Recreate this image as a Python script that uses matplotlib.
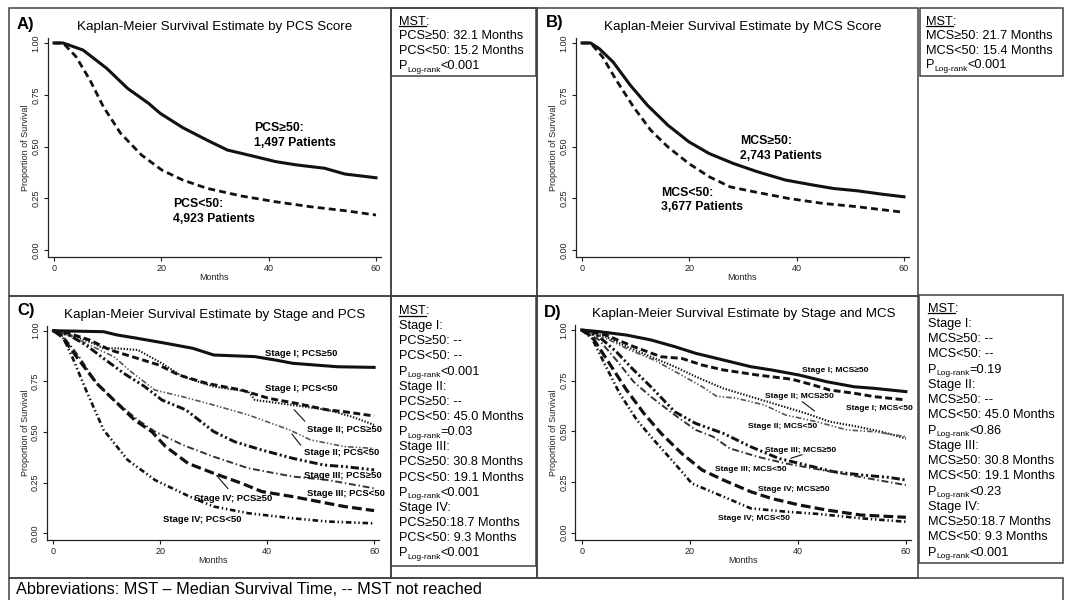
import matplotlib
matplotlib.use("Agg")
import matplotlib.pyplot as plt
from matplotlib.patches import Rectangle
from matplotlib.lines import Line2D

plt.rcParams['font.family'] = ['Liberation Sans', 'DejaVu Sans']
plt.rcParams['lines.scale_dashes'] = False

W, H = 1068, 600

# ---------------- data ----------------
# A) by PCS score
a_hi_t = [0, 1.7, 5.4, 9.8, 13.7, 17.6, 19.8, 24.0, 28.5, 32.3, 37.5, 41.3, 45.2, 50.4, 54.2, 60]
a_hi_s = [1.0, 1.0, 0.966, 0.878, 0.781, 0.709, 0.660, 0.591, 0.531, 0.483, 0.451, 0.427, 0.411, 0.395, 0.367, 0.349]
a_lo_t = [0, 1.7, 4.1, 6.7, 9.2, 12.4, 16.3, 20.1, 24.0, 28.5, 34.9, 41.3, 47.8, 54.2, 60]
a_lo_s = [1.0, 1.0, 0.934, 0.821, 0.692, 0.564, 0.459, 0.386, 0.338, 0.298, 0.261, 0.233, 0.209, 0.190, 0.169]

# B) by MCS score
b_hi_t = [0, 1.6, 3.2, 5.8, 9.0, 12.2, 16.0, 19.9, 23.7, 28.2, 32.7, 37.9, 43.0, 46.9, 51.3, 55.8, 60]
b_hi_s = [1.0, 1.0, 0.973, 0.908, 0.796, 0.699, 0.603, 0.523, 0.466, 0.418, 0.378, 0.338, 0.314, 0.297, 0.286, 0.270, 0.257]
b_lo_t = [0, 1.6, 3.85, 6.4, 9.6, 12.8, 16.0, 19.9, 23.7, 27.6, 32.1, 38.5, 44.9, 51.3, 60]
b_lo_s = [1.0, 1.0, 0.932, 0.820, 0.691, 0.579, 0.498, 0.418, 0.354, 0.305, 0.281, 0.249, 0.225, 0.209, 0.182]

# C) by stage and PCS
c1_t = [0, 9.4, 11.9, 15.8, 21.0, 26.1, 30.0, 37.7, 41.6, 44.8, 53.2, 60]
c1_s = [1.0, 0.995, 0.979, 0.962, 0.938, 0.913, 0.880, 0.872, 0.855, 0.839, 0.822, 0.819]
c2_t = [0, 2.9, 6.8, 10.6, 15.8, 19.7, 23.5, 28.7, 35.2, 40.3, 45.5, 51.3, 54.5, 60]
c2_s = [1.0, 0.987, 0.954, 0.905, 0.863, 0.831, 0.781, 0.740, 0.707, 0.666, 0.641, 0.609, 0.600, 0.579]
c3_t = [0, 4.2, 7.4, 9.4, 11.9, 15.8, 20.3, 24.2, 30.0, 36.5, 37.7, 44.8, 51.3, 55.8, 60]
c3_s = [1.0, 0.970, 0.938, 0.913, 0.913, 0.905, 0.839, 0.773, 0.724, 0.699, 0.658, 0.633, 0.609, 0.576, 0.535]
c4_t = [0, 3.5, 7.4, 11.3, 14.5, 19.0, 24.2, 30.0, 36.5, 44.2, 48.1, 54.5, 60]
c4_s = [1.0, 0.970, 0.921, 0.872, 0.798, 0.707, 0.674, 0.633, 0.584, 0.510, 0.461, 0.428, 0.419]
c5_t = [0, 2.9, 6.1, 9.4, 13.2, 17.1, 20.3, 24.8, 30.0, 33.9, 39.0, 44.8, 50.6, 54.5, 60]
c5_s = [1.0, 0.979, 0.929, 0.863, 0.789, 0.724, 0.658, 0.609, 0.502, 0.452, 0.411, 0.370, 0.337, 0.329, 0.313]
c6_t = [0, 1.9, 4.8, 8.1, 11.3, 15.8, 19.0, 24.2, 30.0, 36.5, 44.8, 51.3, 60]
c6_s = [1.0, 0.970, 0.872, 0.740, 0.658, 0.559, 0.502, 0.436, 0.378, 0.321, 0.280, 0.263, 0.222]
c7_t = [0, 1.6, 4.8, 8.1, 11.3, 15.2, 18.4, 21.0, 25.2, 30.0, 35.2, 39.0, 44.8, 51.3, 54.5, 60]
c7_s = [1.0, 0.970, 0.855, 0.740, 0.658, 0.559, 0.502, 0.428, 0.345, 0.296, 0.247, 0.206, 0.181, 0.148, 0.132, 0.112]
c8_t = [0, 1.6, 3.5, 6.1, 9.4, 13.9, 19.0, 25.5, 30.0, 36.5, 44.8, 51.3, 60]
c8_s = [1.0, 0.979, 0.872, 0.707, 0.510, 0.362, 0.263, 0.181, 0.132, 0.099, 0.074, 0.058, 0.049]

# D) by stage and MCS
d1_t = [0, 3.2, 8.3, 12.8, 17.2, 21.1, 26.2, 31.3, 35.1, 40.2, 45.3, 50.4, 54.2, 60]
d1_s = [1.0, 0.992, 0.975, 0.951, 0.918, 0.885, 0.852, 0.819, 0.803, 0.778, 0.745, 0.720, 0.712, 0.696]
d2_t = [0, 4.5, 9.6, 14.7, 18.5, 22.3, 26.2, 32.5, 38.9, 42.8, 45.9, 50.4, 54.2, 60]
d2_s = [1.0, 0.975, 0.918, 0.868, 0.860, 0.827, 0.803, 0.778, 0.757, 0.729, 0.704, 0.688, 0.671, 0.655]
d3_t = [0, 4.5, 8.3, 12.8, 17.2, 21.1, 26.2, 31.3, 36.4, 41.5, 45.9, 51.1, 55.5, 60]
d3_s = [1.0, 0.967, 0.918, 0.868, 0.819, 0.770, 0.712, 0.671, 0.630, 0.589, 0.548, 0.523, 0.498, 0.465]
d4_t = [0, 4.5, 8.9, 13.4, 17.9, 22.3, 24.9, 28.7, 33.8, 37.7, 43.4, 49.1, 54.2, 60]
d4_s = [1.0, 0.959, 0.901, 0.852, 0.786, 0.720, 0.674, 0.663, 0.630, 0.581, 0.548, 0.507, 0.498, 0.474]
d5_t = [0, 3.2, 6.4, 9.6, 12.8, 17.2, 21.1, 26.2, 31.3, 36.4, 41.5, 46.6, 51.7, 56.8, 60]
d5_s = [1.0, 0.967, 0.893, 0.803, 0.720, 0.597, 0.539, 0.490, 0.424, 0.367, 0.334, 0.301, 0.285, 0.273, 0.260]
d6_t = [0, 3.2, 6.4, 9.6, 12.8, 17.2, 21.1, 24.3, 27.4, 32.5, 37.7, 42.8, 47.9, 53.0, 60]
d6_s = [1.0, 0.951, 0.852, 0.745, 0.671, 0.581, 0.507, 0.474, 0.416, 0.375, 0.342, 0.317, 0.293, 0.268, 0.235]
d7_t = [0, 1.9, 5.1, 8.3, 11.5, 14.7, 18.5, 22.3, 26.2, 31.3, 35.1, 40.2, 45.3, 51.7, 60]
d7_s = [1.0, 0.967, 0.836, 0.704, 0.589, 0.490, 0.391, 0.309, 0.260, 0.202, 0.169, 0.137, 0.112, 0.087, 0.076]
d8_t = [0, 1.9, 4.5, 7.0, 10.2, 12.8, 17.2, 20.4, 26.2, 31.3, 37.7, 44.0, 51.7, 60]
d8_s = [1.0, 0.959, 0.819, 0.688, 0.556, 0.474, 0.342, 0.243, 0.178, 0.120, 0.104, 0.092, 0.071, 0.054]

c_names = ["Stage I; PCS≥50", "Stage I; PCS<50", "Stage II; PCS≥50", "Stage II; PCS<50",
           "Stage III; PCS≥50", "Stage III; PCS<50", "Stage IV; PCS≥50", "Stage IV; PCS<50"]
d_names = ["Stage I; MCS≥50", "Stage I; MCS<50", "Stage II; MCS≥50", "Stage II; MCS<50",
           "Stage III; MCS≥50", "Stage III; MCS<50", "Stage IV; MCS≥50", "Stage IV; MCS<50"]

mst_a = ["MST:", "PCS≥50: 32.1 Months", "PCS<50: 15.2 Months", "P|<0.001"]
mst_b = ["MST:", "MCS≥50: 21.7 Months", "MCS<50: 15.4 Months", "P|<0.001"]
mst_c = ["MST:", "Stage I:", "PCS≥50: --", "PCS<50: --", "P|<0.001",
         "Stage II:", "PCS≥50: --", "PCS<50: 45.0 Months", "P|=0.03",
         "Stage III:", "PCS≥50: 30.8 Months", "PCS<50: 19.1 Months", "P|<0.001",
         "Stage IV:", "PCS≥50:18.7 Months", "PCS<50: 9.3 Months", "P|<0.001"]
mst_d = ["MST:", "Stage I:", "MCS≥50: --", "MCS<50: --", "P|=0.19",
         "Stage II:", "MCS≥50: --", "MCS<50: 45.0 Months", "P|<0.86",
         "Stage III:", "MCS≥50: 30.8 Months", "MCS<50: 19.1 Months", "P|<0.23",
         "Stage IV:", "MCS≥50:18.7 Months", "MCS<50: 9.3 Months", "P|<0.001"]

# ---------------- styles ----------------
K = '#111111'
stage_styles = [
    dict(ls='-', lw=2.2, color=K),
    dict(ls=(0, (5, 2.5)), lw=2.1, color=K),
    dict(ls=(0, (1, 1.2)), lw=1.5, color=K),
    dict(ls=(0, (4, 1.5, 1, 1.5, 1, 1.5)), lw=1.2, color='#555555'),
    dict(ls=(0, (6, 2, 1.5, 2, 1.5, 2)), lw=2.1, color=K),
    dict(ls=(0, (5, 2, 1, 2)), lw=1.4, color='#333333'),
    dict(ls=(0, (7, 3)), lw=2.3, color=K),
    dict(ls=(0, (4, 2, 1, 2, 1, 2)), lw=1.9, color=K),
]

fig = plt.figure(figsize=(W / 100, H / 100), dpi=100)
renderer = fig.canvas.get_renderer()


def fx(px):
    return px / W


def fy(py):
    return 1 - py / H


def box(x0, y0, x1, y1):
    fig.add_artist(Rectangle((fx(x0), fy(y1)), (x1 - x0) / W, (y1 - y0) / H,
                             transform=fig.transFigure, fill=False, lw=1.1, ec='#404040'))


def km_axes(x0, x60, y1, y0):
    # pixel positions of t=0, t=60, S=1, S=0
    sx = (x60 - x0) / 60.0
    sy = float(y0 - y1)
    left, right, top, bot = x0 - 6.5, x60 + 5, y1 - 5, y0 + 7
    ax = fig.add_axes([fx(left), fy(bot), (right - left) / W, (bot - top) / H])
    ax.set_xlim(-6.5 / sx, 60 + 5 / sx)
    ax.set_ylim(-7 / sy, 1 + 5 / sy)
    ax.patch.set_alpha(0)
    for s in ('top', 'right'):
        ax.spines[s].set_visible(False)
    for s in ('left', 'bottom'):
        ax.spines[s].set_linewidth(0.9)
        ax.spines[s].set_color('#222222')
    ax.set_xticks([0, 20, 40, 60])
    ax.set_yticks([0, 0.25, 0.5, 0.75, 1.0])
    ax.set_yticklabels(['0.00', '0.25', '0.50', '0.75', '1.00'], rotation=90, va='center')
    ax.tick_params(length=3, width=0.8, labelsize=6.5, pad=2, colors='#222222')
    ax.set_xlabel('Months', fontsize=6.5, labelpad=0, color='#222222')
    ax.set_ylabel('Proportion of Survival', fontsize=6.5, labelpad=1, color='#222222')
    return ax


def text_block(x, y0, dy, lines, size=9.2):
    for i, s in enumerate(lines):
        base = fy(y0 + i * dy + 4.6)
        if s == 'MST:':
            t = fig.text(fx(x), base, 'MST', fontsize=size, va='baseline')
            bb = t.get_window_extent(renderer)
            fig.text(bb.x1 / W, base, ':', fontsize=size, va='baseline')
            yl = base * H - 1.6
            fig.add_artist(Line2D([bb.x0 / W, bb.x1 / W], [yl / H, yl / H],
                                  transform=fig.transFigure, lw=0.9, color='black'))
        elif s.startswith('P|'):
            t = fig.text(fx(x), base, 'P', fontsize=size, va='baseline')
            bb = t.get_window_extent(renderer)
            t2 = fig.text(bb.x1 / W, base - 2.5 / H, 'Log-rank', fontsize=6.0, va='baseline')
            bb2 = t2.get_window_extent(renderer)
            fig.text(bb2.x1 / W, base, s[2:], fontsize=size, va='baseline')
        else:
            fig.text(fx(x), base, s, fontsize=size, va='baseline')


# ---------------- frames ----------------
box(9, 8, 391, 296)
box(391, 8, 537, 296)
box(391, 8, 536, 76)
box(537, 8, 918, 296)
box(920, 8, 1063, 76)
box(9, 296, 391, 578)
box(391, 296, 537, 578)
box(391, 296, 536, 566)
box(537, 296, 918, 578)
box(919, 295, 1063, 563)
box(9, 578, 1063, 603)

# ---------------- panel A ----------------
ax = km_axes(54, 376, 43, 250)
ax.plot(a_hi_t, a_hi_s, color=K, lw=2.2)
ax.plot(a_lo_t, a_lo_s, color=K, lw=2.0, ls=(0, (5, 3)))
ax.text(37.3, 0.589, 'PCS≥50:', fontsize=8.8, fontweight='bold', va='center')
ax.text(37.3, 0.516, '1,497 Patients', fontsize=8.8, fontweight='bold', va='center')
ax.text(22.2, 0.223, 'PCS<50:', fontsize=8.8, fontweight='bold', va='center')
ax.text(22.2, 0.148, '4,923 Patients', fontsize=8.8, fontweight='bold', va='center')
fig.text(fx(215), fy(27), 'Kaplan-Meier Survival Estimate by PCS Score', fontsize=9.6,
         ha='center', va='center')
fig.text(fx(17), fy(25), 'A)', fontsize=12, fontweight='bold', va='center')
text_block(399, 20, 14.8, mst_a)

# ---------------- panel B ----------------
ax = km_axes(582, 904, 43, 250)
ax.plot(b_hi_t, b_hi_s, color=K, lw=2.2)
ax.plot(b_lo_t, b_lo_s, color=K, lw=2.0, ls=(0, (5, 3)))
ax.text(29.5, 0.526, 'MCS≥50:', fontsize=8.8, fontweight='bold', va='center')
ax.text(29.5, 0.453, '2,743 Patients', fontsize=8.8, fontweight='bold', va='center')
ax.text(14.8, 0.277, 'MCS<50:', fontsize=8.8, fontweight='bold', va='center')
ax.text(14.8, 0.206, '3,677 Patients', fontsize=8.8, fontweight='bold', va='center')
fig.text(fx(742.5), fy(26.7), 'Kaplan-Meier Survival Estimate by MCS Score', fontsize=9.6,
         ha='center', va='center')
fig.text(fx(545.5), fy(23), 'B)', fontsize=12, fontweight='bold', va='center')
text_block(926, 20, 14.6, mst_b)

# ---------------- panel C ----------------
ax = km_axes(53.4, 374.1, 330.7, 533.3)
c_curves = [(c1_t, c1_s), (c2_t, c2_s), (c3_t, c3_s), (c4_t, c4_s),
            (c5_t, c5_s), (c6_t, c6_s), (c7_t, c7_s), (c8_t, c8_s)]
for (t, s), st in zip(c_curves, stage_styles):
    ax.plot(t, s, **st)
c_pos = [(39.5, 0.888), (39.5, 0.714), (47.4, 0.510), (46.8, 0.398),
         (46.9, 0.285), (47.4, 0.194), (26.3, 0.173), (20.5, 0.069)]
for name, (x, y) in zip(c_names, c_pos):
    ax.text(x, y, name, fontsize=6.8, fontweight='bold', va='center')
for tail, head in [((47.4, 0.543), (44.7, 0.620)), ((46.6, 0.424), (44.3, 0.501)),
                   ((33.0, 0.210), (30.2, 0.296))]:
    ax.annotate('', xy=head, xytext=tail, arrowprops=dict(arrowstyle='-', lw=0.8, color=K))
fig.text(fx(214.3), fy(315), 'Kaplan-Meier Survival Estimate by Stage and PCS', fontsize=9.6,
         ha='center', va='center')
fig.text(fx(17), fy(310), 'C)', fontsize=12, fontweight='bold', va='center')
text_block(399, 309.3, 15.15, mst_c)

# ---------------- panel D ----------------
ax = km_axes(581.7, 905.9, 330, 532.7)
d_curves = [(d1_t, d1_s), (d2_t, d2_s), (d3_t, d3_s), (d4_t, d4_s),
            (d5_t, d5_s), (d6_t, d6_s), (d7_t, d7_s), (d8_t, d8_s)]
for (t, s), st in zip(d_curves, stage_styles):
    ax.plot(t, s, **st)
d_pos = [(40.8, 0.799), (49.0, 0.613), (34.0, 0.674), (30.8, 0.523),
         (34.0, 0.408), (24.6, 0.314), (32.7, 0.211), (25.2, 0.069)]
for name, (x, y) in zip(d_names, d_pos):
    ax.text(x, y, name, fontsize=6.1, fontweight='bold', va='center')
for tail, head in [((40.4, 0.655), (43.5, 0.592)), ((41.3, 0.389), (38.2, 0.363))]:
    ax.annotate('', xy=head, xytext=tail, arrowprops=dict(arrowstyle='-', lw=0.8, color=K))
fig.text(fx(743.4), fy(314), 'Kaplan-Meier Survival Estimate by Stage and MCS', fontsize=9.6,
         ha='center', va='center')
fig.text(fx(544), fy(312), 'D)', fontsize=12, fontweight='bold', va='center')
text_block(928, 307, 15.25, mst_d)

# ---------------- footnote ----------------
fig.text(fx(16), fy(590), 'Abbreviations: MST – Median Survival Time, -- MST not reached',
         fontsize=11.7, va='center')

fig.savefig('out.png', dpi=100)
